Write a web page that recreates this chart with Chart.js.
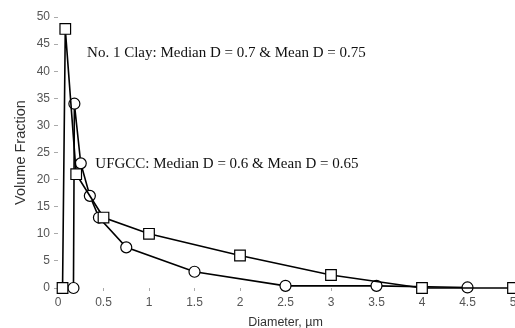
<!DOCTYPE html>
<html>
<head>
<meta charset="utf-8">
<script src="https://cdn.jsdelivr.net/npm/chart.js@4.4.0/dist/chart.umd.min.js"></script>
<style>
  html, body { margin: 0; padding: 0; background: #fff; }
  #wrap { width: 515px; height: 328px; position: relative; }
</style>
</head>
<body>
<div id="wrap"><canvas id="sizeChart"></canvas></div>
<script>
// --- data ---
const clayX = [0.05, 0.08, 0.2, 0.5, 1, 2, 3, 4, 5];
const clayY = [0, 47.8, 21, 13, 10, 6, 2.4, 0, 0];
const ufgccX = [0.17, 0.18, 0.25, 0.35, 0.45, 0.75, 1.5, 2.5, 3.5, 4.5];
const ufgccY = [0, 34, 23, 17, 13, 7.5, 3, 0.4, 0.4, 0.1];

const noteText = [
    'No. 1 Clay: Median D = 0.7 & Mean D = 0.75',
    'UFGCC: Median D = 0.6 & Mean D = 0.65'
];
const noteX = [0.32, 0.41];
const noteY = [43.3, 22.8];

const toPoints = (xs, ys) => xs.map((x, i) => ({ x: x, y: ys[i] }));

const tickFont = { family: "'Liberation Sans Narrow', 'Liberation Sans', Arial, sans-serif", size: 12 };

// annotations placed through the scales
const notesPlugin = {
    id: 'notes',
    afterDatasetsDraw(chart) {
        const { ctx, scales } = chart;
        ctx.save();
        ctx.font = "15px 'Liberation Serif', 'DejaVu Serif', serif";
        ctx.fillStyle = '#111';
        ctx.textBaseline = 'middle';
        noteText.forEach((t, i) => {
            ctx.fillText(t, scales.x.getPixelForValue(noteX[i]), scales.y.getPixelForValue(noteY[i]));
        });
        ctx.restore();
    }
};

new Chart(document.getElementById('sizeChart').getContext('2d'), {
    type: 'scatter',
    data: {
        datasets: [
            {
                label: 'No. 1 Clay',
                data: toPoints(clayX, clayY),
                showLine: true, clip: false,
                borderColor: '#000', borderWidth: 1.6,
                pointStyle: 'rect', pointRadius: 7.5,
                pointBackgroundColor: '#fff', pointBorderColor: '#000', pointBorderWidth: 1.2
            },
            {
                label: 'UFGCC',
                data: toPoints(ufgccX, ufgccY),
                showLine: true, clip: false,
                borderColor: '#000', borderWidth: 1.6,
                pointStyle: 'circle', pointRadius: 5.5,
                pointBackgroundColor: '#fff', pointBorderColor: '#000', pointBorderWidth: 1.2
            }
        ]
    },
    options: {
        responsive: true, maintainAspectRatio: false, animation: false,
        layout: { autoPadding: false, padding: { top: 17, right: 2, left: 0, bottom: 0 } },
        scales: {
            x: {
                type: 'linear', min: 0, max: 5,
                ticks: { stepSize: 0.5, color: '#555', font: tickFont, padding: 4, maxRotation: 0,
                         callback: v => String(v) },
                grid: { drawOnChartArea: false, drawTicks: true, tickLength: 3, color: '#aaa' },
                border: { display: false },
                title: { display: true, text: 'Diameter, µm', color: '#333',
                         font: { family: "'Liberation Sans Narrow', 'Liberation Sans', Arial, sans-serif", size: 12.5 },
                         padding: { top: 0, bottom: -2 } },
                afterFit(s) { s.height = 40; s.paddingLeft = 0; s.paddingRight = 0; }
            },
            y: {
                min: 0, max: 50,
                ticks: { stepSize: 5, color: '#555', font: tickFont, padding: 4 },
                grid: { drawOnChartArea: false, drawTicks: true, tickLength: 4, color: '#aaa' },
                border: { display: false },
                title: { display: true, text: 'Volume Fraction', color: '#333',
                         font: { family: "'Liberation Sans', Arial, sans-serif", size: 14.5 },
                         padding: { top: 12, bottom: 0 } },
                afterFit(s) { s.width = 58; s.paddingTop = 0; s.paddingBottom = 0; }
            }
        },
        plugins: { legend: { display: false }, tooltip: { enabled: false } }
    },
    plugins: [notesPlugin]
});
</script>
</body>
</html>
